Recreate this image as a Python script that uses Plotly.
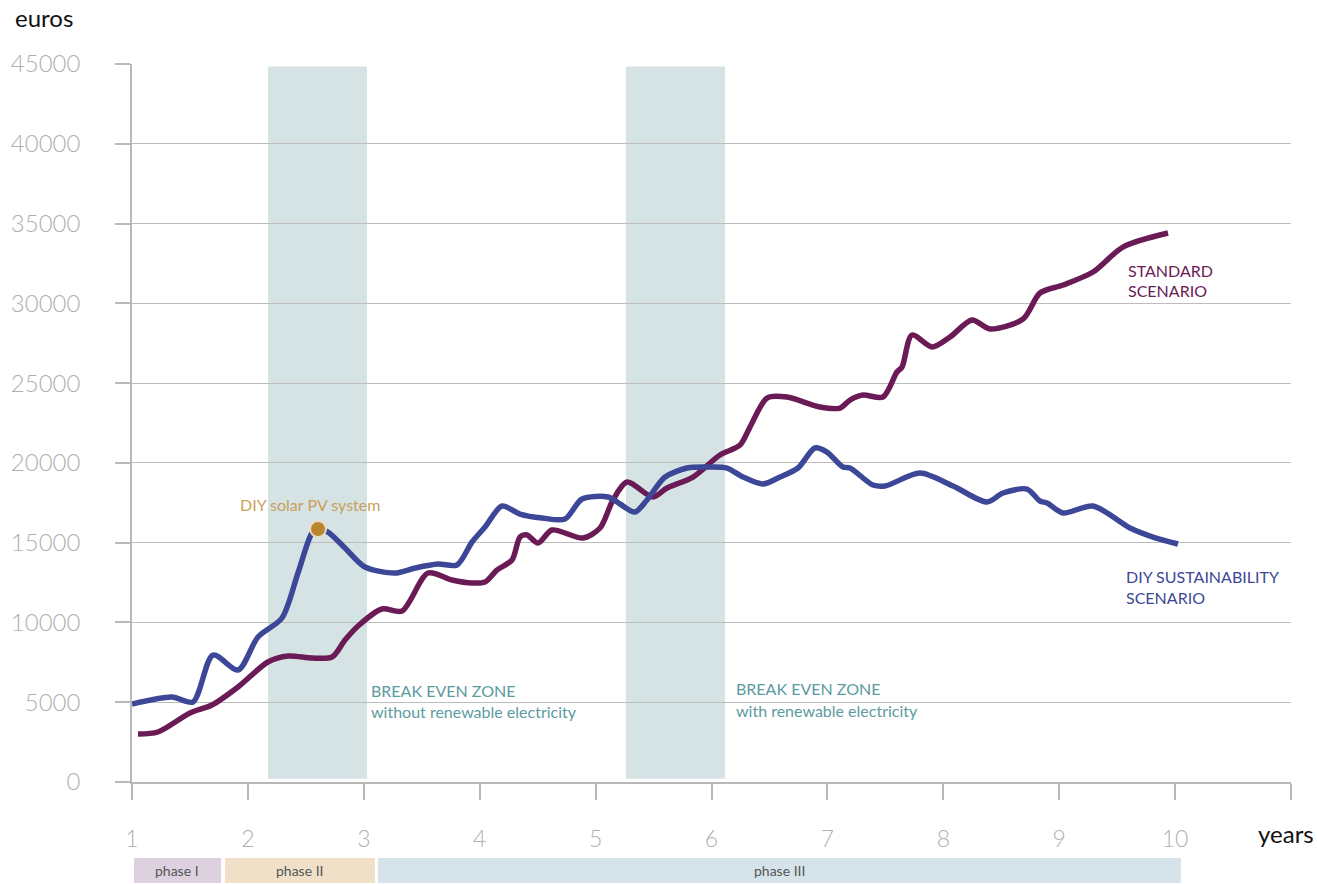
import plotly.graph_objects as go

# ---------------- data ----------------
diy_years = [1.0, 1.345, 1.526, 1.699, 1.915, 2.087, 2.294, 2.432, 2.553, 2.605, 2.691, 2.838,
             3.010, 3.269, 3.442, 3.640, 3.804, 3.934, 4.046, 4.192, 4.348, 4.538, 4.736, 4.883,
             5.107, 5.211, 5.340, 5.443, 5.599, 5.789, 5.961, 6.134, 6.272, 6.444, 6.591, 6.746,
             6.893, 6.996, 7.134, 7.195, 7.393, 7.497, 7.799, 8.084, 8.377, 8.515, 8.722, 8.834,
             8.895, 9.033, 9.292, 9.611, 9.809, 10.025]
diy_euros = [4890, 5327, 5014, 7959, 7019, 9087, 10278, 13098, 15605, 15856, 15668, 14665,
             13474, 13098, 13411, 13662, 13599, 15041, 15981, 17297, 16796, 16545, 16482, 17736,
             17861, 17422, 16921, 17673, 19114, 19678, 19741, 19678, 19114, 18676, 19114, 19678,
             20932, 20681, 19741, 19678, 18613, 18550, 19365, 18550, 17548, 18112, 18362, 17610,
             17485, 16858, 17297, 15918, 15354, 14915]

std_years = [1.052, 1.224, 1.500, 1.690, 1.915, 2.173, 2.346, 2.553, 2.726, 2.838, 2.950, 3.157,
             3.330, 3.554, 3.761, 3.934, 4.046, 4.149, 4.279, 4.348, 4.408, 4.503, 4.624, 4.891,
             5.038, 5.150, 5.271, 5.495, 5.616, 5.840, 6.073, 6.246, 6.332, 6.479, 6.651, 6.936,
             7.109, 7.195, 7.307, 7.480, 7.600, 7.644, 7.730, 7.903, 8.058, 8.248, 8.403, 8.688,
             8.834, 9.033, 9.292, 9.550, 9.939]
std_euros = [3008, 3134, 4324, 4826, 5954, 7520, 7896, 7771, 7834, 8899, 9777, 10842,
             10717, 13098, 12659, 12471, 12534, 13286, 13913, 15354, 15479, 14978, 15793, 15291,
             15918, 17673, 18801, 17861, 18425, 19114, 20493, 21120, 22248, 24065, 24128, 23501,
             23439, 23940, 24253, 24128, 25695, 26008, 28013, 27261, 27888, 28954, 28390, 29016,
             30646, 31147, 31962, 33528, 34406]

pv_year = [2.605]
pv_euros = [15856]

x_tickvals = [1, 2, 3, 4, 5, 6, 7, 8, 9, 10, 11]
x_ticktext = ["1", "2", "3", "4", "5", "6", "7", "8", "9", "10", ""]
y_tickvals = [0, 5000, 10000, 15000, 20000, 25000, 30000, 35000, 40000, 45000]
y_ticktext = ["0", "5000", "10000", "15000", "20000", "25000", "30000", "35000", "40000", "45000"]

zone_starts = [2.173, 5.262]
zone_ends = [3.028, 6.117]

phase_names = ["phase I", "phase II", "phase III"]
phase_starts = [1.017, 1.802, 3.123]
phase_ends = [1.768, 3.097, 10.05]
phase_colors = ["#ddd1e0", "#f1e0c8", "#d6e3ea"]

BLUE = "#3c4797"
PURPLE = "#6a1b56"
TEAL = "#5c9ba0"
GOLD = "#c99f5c"
TICKGRAY = "#b0b0b0"

fig = go.Figure()

fig.add_trace(go.Scatter(x=std_years, y=std_euros, mode="lines",
                         line=dict(color=PURPLE, width=5.5, shape="spline", smoothing=0.8),
                         hoverinfo="skip"))
fig.add_trace(go.Scatter(x=diy_years, y=diy_euros, mode="lines",
                         line=dict(color=BLUE, width=5.5, shape="spline", smoothing=0.8),
                         hoverinfo="skip"))
fig.add_trace(go.Scatter(x=pv_year, y=pv_euros, mode="markers",
                         marker=dict(color="#b8862f", size=16, line=dict(color="#eadcc6", width=2)),
                         hoverinfo="skip"))

shapes = []
for x0, x1 in zip(zone_starts, zone_ends):
    shapes.append(dict(type="rect", xref="x", yref="y", x0=x0, x1=x1, y0=200, y1=44850,
                       fillcolor="#d5e3e4", line=dict(width=0), layer="below"))
for x0, x1, c in zip(phase_starts, phase_ends, phase_colors):
    shapes.append(dict(type="rect", xref="x", yref="paper", x0=x0, x1=x1, y0=-0.1407, y1=-0.1058,
                       fillcolor=c, line=dict(width=0), layer="below"))

annotations = []
for name, x0, x1 in zip(phase_names, phase_starts, phase_ends):
    annotations.append(dict(x=(x0 + x1) / 2, y=-0.1232, xref="x", yref="paper", text=name,
                            showarrow=False, xanchor="center", yanchor="middle",
                            font=dict(family="Lato", size=14, color="#555555")))


def label(x, y, text, color, size=16, xanchor="left"):
    annotations.append(dict(x=x, y=y, xref="x", yref="y", text=text, showarrow=False,
                            xanchor=xanchor, yanchor="middle",
                            font=dict(family="Lato", size=size, color=color)))


label(3.045, 5766, "BREAK EVEN ZONE", TEAL)
label(3.045, 4450, "without renewable electricity", TEAL)
label(6.198, 5830, "BREAK EVEN ZONE", TEAL)
label(6.198, 4510, "with renewable electricity", TEAL)
label(2.534, 17400, "DIY solar PV system", GOLD, xanchor="center")
label(9.578, 32040, "STANDARD", PURPLE)
label(9.578, 30790, "SCENARIO", PURPLE)
label(9.561, 12910, "DIY SUSTAINABILITY", BLUE)
label(9.561, 11590, "SCENARIO", BLUE)

annotations.append(dict(text="euros", xref="paper", yref="paper", x=-0.1024, y=1.0641,
                        xanchor="left", yanchor="middle", showarrow=False,
                        font=dict(family="Lato", size=24, color="#111111")))
annotations.append(dict(text="years", xref="paper", yref="paper", x=1.0216, y=-0.0724,
                        xanchor="right", yanchor="middle", showarrow=False,
                        font=dict(family="Lato", size=24, color="#111111")))

fig.update_layout(
    width=1317, height=884,
    margin=dict(l=132, r=26, t=64, b=102, autoexpand=False),
    paper_bgcolor="white", plot_bgcolor="white",
    showlegend=False,
    shapes=shapes,
    annotations=annotations,
    xaxis=dict(range=[1, 11], tickvals=x_tickvals, ticktext=x_ticktext, automargin=False,
               showgrid=False, zeroline=False, showline=True, linecolor="#b8b8b8", linewidth=2,
               ticks="outside", ticklen=16, tickcolor="#b8b8b8", tickwidth=1.5,
               ticklabelstandoff=19,
               tickfont=dict(family="Lato", weight=300, size=23, color=TICKGRAY)),
    yaxis=dict(range=[0, 45000], tickvals=y_tickvals, ticktext=y_ticktext, automargin=False,
               showgrid=True, gridcolor="#bdbdbd", gridwidth=1, zeroline=False,
               showline=True, linecolor="#b8b8b8", linewidth=1.5,
               ticks="outside", ticklen=15, tickcolor="#b8b8b8", tickwidth=1.5,
               ticklabelstandoff=30,
               tickfont=dict(family="Lato", weight=300, size=24, color=TICKGRAY)),
)

fig.write_html("out.html", config={"displayModeBar": False},
               post_script="document.body.style.margin='0';")
